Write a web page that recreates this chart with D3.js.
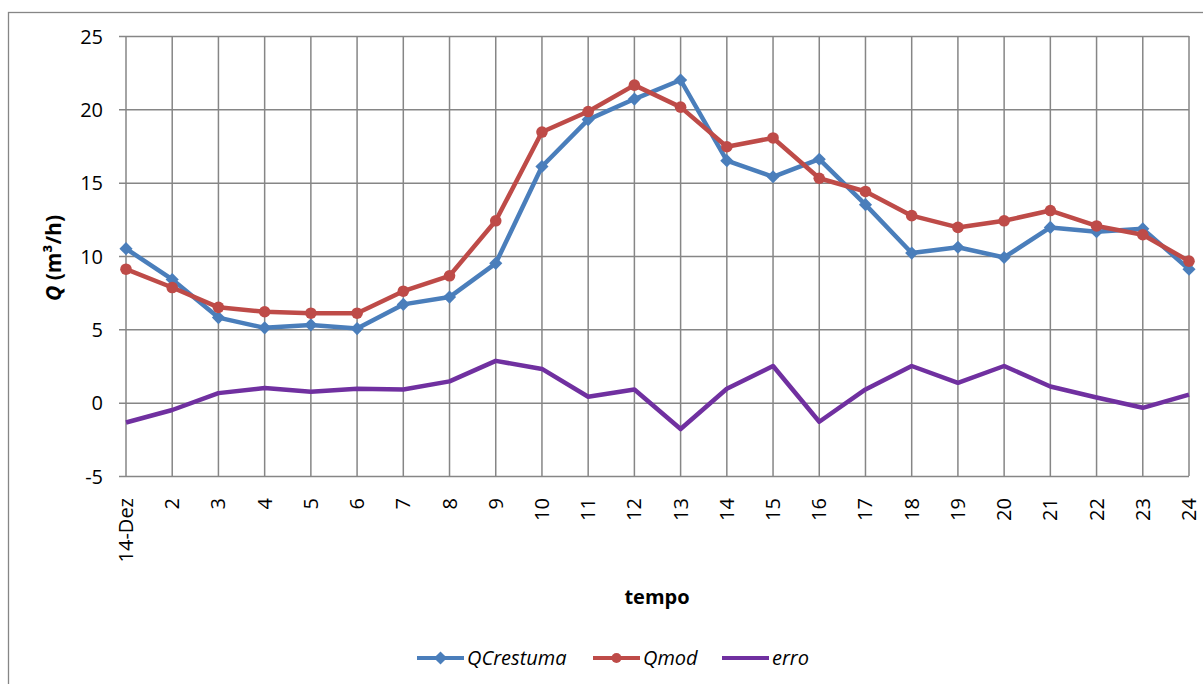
<!DOCTYPE html>
<html>
<head>
<meta charset="utf-8">
<script src="https://cdn.jsdelivr.net/npm/d3@7"></script>
<style>
  body { margin: 0; background: #fff; }
  text { font-family: "Open Sans", sans-serif; fill: #000; }
</style>
</head>
<body>
<div id="chart-container"></div>
<script>
// chart size and plot box
const svgWidth = 1203;
const svgHeight = 684;
const margin = { top: 36, right: 14, bottom: 208, left: 126 };
const width = svgWidth - margin.left - margin.right;
const height = svgHeight - margin.top - margin.bottom;

// data
const days = ["14-Dez", "2", "3", "4", "5", "6", "7", "8", "9", "10", "11", "12",
  "13", "14", "15", "16", "17", "18", "19", "20", "21", "22", "23", "24"];
const qCrestuma = [10.5, 8.4, 5.8, 5.1, 5.3, 5.05, 6.7, 7.2, 9.5, 16.1, 19.3, 20.7,
  22.0, 16.5, 15.4, 16.6, 13.5, 10.2, 10.6, 9.9, 11.95, 11.65, 11.85, 9.1];
const qMod = [9.1, 7.85, 6.5, 6.2, 6.1, 6.1, 7.6, 8.65, 12.4, 18.45, 19.85, 21.65,
  20.15, 17.45, 18.05, 15.3, 14.4, 12.75, 11.95, 12.4, 13.1, 12.05, 11.45, 9.65];
const erro = [-1.35, -0.5, 0.65, 1.0, 0.75, 0.95, 0.9, 1.45, 2.85, 2.3, 0.4, 0.9,
  -1.8, 0.95, 2.5, -1.3, 0.9, 2.5, 1.35, 2.5, 1.1, 0.35, -0.35, 0.55];
const yTicks = [-5, 0, 5, 10, 15, 20, 25];

const seriesNames = ["QCrestuma", "Qmod", "erro"];
const colors = ["#4a7ebb", "#be4b48", "#7030a0"];
const gridColor = "#868686";
const fontSize = "20px";

const svg = d3.select("#chart-container")
    .append("svg")
    .attr("width", svgWidth)
    .attr("height", svgHeight);

// outer chart border
svg.append("rect")
    .attr("x", 8.5).attr("y", 12.5)
    .attr("width", svgWidth + 10).attr("height", svgHeight + 10)
    .attr("fill", "none")
    .attr("stroke", gridColor)
    .attr("stroke-width", 1.3);

const g = svg.append("g")
    .attr("transform", `translate(${margin.left},${margin.top})`);

const x = d3.scalePoint().domain(days).range([0, width]);
const y = d3.scaleLinear().domain([-5, 25]).range([height, 0]);

// horizontal grid + y axis (plain hyphen for negatives, like the original)
const yAxis = g.append("g")
    .call(d3.axisLeft(y).tickValues(yTicks).tickSize(-width).tickPadding(23).tickFormat(d => String(d)));
yAxis.select(".domain").remove();
yAxis.selectAll("line")
    .attr("x1", -7)
    .attr("stroke", gridColor)
    .attr("stroke-width", 1.5);
yAxis.selectAll("text")
    .style("font-size", fontSize)
    .attr("dy", "0.35em");

// vertical grid
g.append("g").selectAll("line")
    .data(days)
    .join("line")
    .attr("x1", d => x(d)).attr("x2", d => x(d))
    .attr("y1", 0).attr("y2", height)
    .attr("stroke", gridColor)
    .attr("stroke-width", 1.5);

// x tick labels, rotated
g.append("g").selectAll("text")
    .data(days)
    .join("text")
    .attr("transform", d => `translate(${x(d)},${height + 22}) rotate(-90)`)
    .attr("text-anchor", "end")
    .attr("dy", "0.35em")
    .style("font-size", fontSize)
    .text(d => d);

// axis titles
svg.append("text")
    .attr("transform", `translate(61,${margin.top + y(10) + 2}) rotate(-90)`)
    .attr("text-anchor", "middle")
    .style("font-size", "21px")
    .style("font-weight", "bold")
    .html('<tspan font-style="italic">Q</tspan> (m³/h)');

svg.append("text")
    .attr("x", 657).attr("y", 604)
    .attr("text-anchor", "middle")
    .style("font-size", fontSize)
    .style("font-weight", "bold")
    .text("tempo");

// lines
const line = d3.line()
    .x((d, i) => x(days[i]))
    .y(d => y(d));

const allSeries = [qCrestuma, qMod, erro];
allSeries.forEach((vals, k) => {
    g.append("path")
        .datum(vals)
        .attr("d", line)
        .attr("fill", "none")
        .attr("stroke", colors[k])
        .attr("stroke-width", 4.5)
        .attr("stroke-linejoin", "round");
});

// markers
const diamond = d3.symbol().type(d3.symbolDiamond2).size(110);
g.append("g").selectAll("path")
    .data(qCrestuma)
    .join("path")
    .attr("d", diamond)
    .attr("transform", (d, i) => `translate(${x(days[i])},${y(d)})`)
    .attr("fill", colors[0]);

g.append("g").selectAll("circle")
    .data(qMod)
    .join("circle")
    .attr("cx", (d, i) => x(days[i]))
    .attr("cy", d => y(d))
    .attr("r", 5.8)
    .attr("fill", colors[1]);

// legend
const legendItems = [
    { name: seriesNames[0], x0: 417, color: colors[0], mark: "diamond" },
    { name: seriesNames[1], x0: 593, color: colors[1], mark: "circle" },
    { name: seriesNames[2], x0: 722, color: colors[2], mark: "none" }
];
const legendY = 658;
const leg = svg.append("g");
legendItems.forEach(it => {
    leg.append("line")
        .attr("x1", it.x0).attr("x2", it.x0 + 47)
        .attr("y1", legendY).attr("y2", legendY)
        .attr("stroke", it.color)
        .attr("stroke-width", 4);
    if (it.mark === "diamond") {
        leg.append("path")
            .attr("d", diamond)
            .attr("transform", `translate(${it.x0 + 23.5},${legendY})`)
            .attr("fill", it.color);
    } else if (it.mark === "circle") {
        leg.append("circle")
            .attr("cx", it.x0 + 23.5).attr("cy", legendY).attr("r", 5)
            .attr("fill", it.color);
    }
    leg.append("text")
        .attr("x", it.x0 + 50).attr("y", legendY)
        .attr("dy", "0.35em")
        .style("font-size", fontSize)
        .style("font-style", "italic")
        .text(it.name);
});
</script>
</body>
</html>
